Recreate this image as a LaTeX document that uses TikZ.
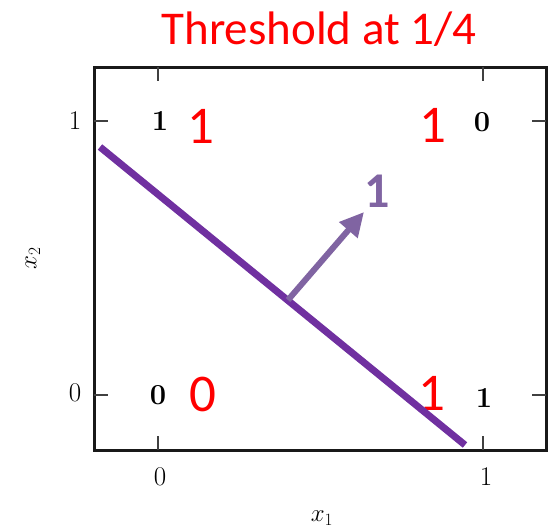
\documentclass[tikz,border=0pt]{standalone}
\usepackage{fontspec}
\usetikzlibrary{arrows.meta}
\newfontfamily\calib{Carlito}
\definecolor{sepline}{HTML}{7030A0}
\definecolor{normarrow}{HTML}{8064A2}
\definecolor{titlered}{HTML}{FF0000}
\begin{document}
\begin{tikzpicture}[x=1pt,y=-1pt,
  boxline/.style={line width=3pt, draw=black!90},
  tickmark/.style={line width=1.6pt, draw=black!75},
  ticklabel/.style={font=\fontsize{27}{30}\selectfont, inner sep=0pt},
  cornerval/.style={font=\fontsize{29}{32}\selectfont\bfseries, inner sep=0pt},
  outval/.style={font=\calib\fontsize{53}{60}\selectfont, text=titlered, inner sep=0pt, anchor=base},
  ]
\useasboundingbox (0,0) rectangle (555,530);
% title
\node[font=\calib\fontsize{47}{54}\selectfont, text=titlered, anchor=base, inner sep=0pt] (title) at (319,45) {Threshold at 1/4};
% plot box
\draw[boxline] (94,67) rectangle (546,450);
% ticks
\foreach \x in {158,483} {
  \draw[tickmark] (\x,450) -- (\x,436);
  \draw[tickmark] (\x,67) -- (\x,81);
}
\foreach \y in {121,395} {
  \draw[tickmark] (94,\y) -- (108,\y);
  \draw[tickmark] (546,\y) -- (532,\y);
}
% tick labels
\node[ticklabel] (yone) at (75,121) {1};
\node[ticklabel] (yzero) at (75,393) {0};
\node[ticklabel] (xzero) at (160,477) {0};
\node[ticklabel] (xone) at (486,477) {1};
\node[font=\fontsize{27}{30}\selectfont] (xlab) at (322,518) {$x_1$};
\node[font=\fontsize{27}{30}\selectfont, rotate=90] (ylab) at (33,258) {$x_2$};
% corner values
\node[cornerval] (c01) at (160,121) {1};
\node[cornerval] (c11) at (482,122) {0};
\node[cornerval] (c00) at (158,395) {0};
\node[cornerval] (c10) at (484,398) {1};
% outputs
\node[outval] (o01) at (201,143) {1};
\node[outval] (o11) at (433,142) {1};
\node[outval] (o00) at (203,411) {0};
\node[outval] (o10) at (432,410) {1};
% separating line
\coordinate (ls) at (100,147);
\coordinate (le) at (465,445);
\draw[sepline, line width=7pt] (ls) -- (le);
% normal arrow
\coordinate (as) at (288,300);
\coordinate (ae) at (364,212);
\draw[normarrow, line width=6pt, -{Triangle[length=24pt 0 0, width=23pt 0 0]}] (as) -- (ae);
\node[font=\calib\bfseries\fontsize{50}{56}\selectfont, text=normarrow, anchor=base, inner sep=0pt] (alab) at (377,207) {1};
\end{tikzpicture}
\end{document}
